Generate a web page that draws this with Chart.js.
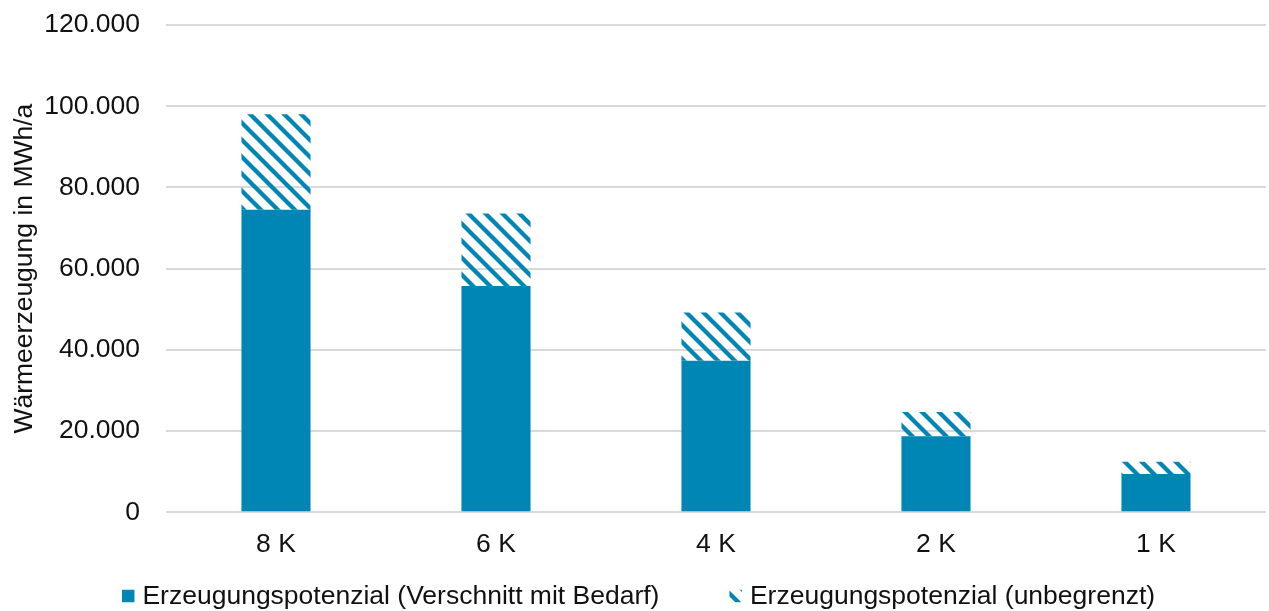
<!DOCTYPE html>
<html lang="de">
<head>
<meta charset="utf-8">
<title>Wärmeerzeugung</title>
<script src="https://cdn.jsdelivr.net/npm/chart.js@4.4.1/dist/chart.umd.min.js"></script>
<style>
  html, body { margin: 0; padding: 0; background: #fff; }
  #wrap { position: relative; width: 1269px; height: 611px; }
</style>
</head>
<body>
<div id="wrap"><canvas id="chart" width="1269" height="611"></canvas></div>
<script>
// Daten
const categories = ['8 K', '6 K', '4 K', '2 K', '1 K'];
const potenzialBedarf = [74500, 55700, 37300, 18700, 9400];
// Zusatz oberhalb (gestapelt) -> Summe = unbegrenztes Potenzial
const potenzialUnbegrenzt = [23500, 17900, 11900, 6000, 3000];
const yTickValues = [0, 20000, 40000, 60000, 80000, 100000, 120000];

const seriesLabels = [
  'Erzeugungspotenzial (Verschnitt mit Bedarf)',
  'Erzeugungspotenzial (unbegrenzt)'
];

const BLUE = '#0086b4';
const FONT = '"Liberation Sans", Arial, sans-serif';
const FONT_SIZE = 26.5;

// Schraffur fuer den unbegrenzten Teil
function makeHatch(color) {
  const t = 17;
  const c = document.createElement('canvas');
  c.width = t;
  c.height = t;
  const g = c.getContext('2d');
  g.strokeStyle = color;
  g.lineWidth = 4.3;
  g.beginPath();
  for (const o of [-t, 0, t]) {
    g.moveTo(o - 2, -2);
    g.lineTo(o + t + 2, t + 2);
  }
  g.stroke();
  return g.createPattern(c, 'repeat');
}

function formatDe(v) {
  return String(v).replace(/\B(?=(\d{3})+(?!\d))/g, '.');
}

// eigene Legende unter dem Diagramm
const bottomLegend = {
  id: 'bottomLegend',
  afterDraw(chart) {
    const ctx = chart.ctx;
    const box = 12.5, gap = 8, spacing = 70, cy = 596;
    ctx.save();
    ctx.font = FONT_SIZE + 'px ' + FONT;
    ctx.textBaseline = 'middle';
    ctx.textAlign = 'left';
    const items = chart.data.datasets.map(ds => ({
      text: ds.label,
      fill: ds.backgroundColor,
      w: ctx.measureText(ds.label).width
    }));
    let total = 0;
    items.forEach((it, i) => {
      total += box + gap + it.w + (i < items.length - 1 ? spacing : 0);
    });
    let x = chart.width / 2 - total / 2 + 4;
    items.forEach(it => {
      ctx.fillStyle = it.fill;
      ctx.fillRect(x, cy - box / 2, box, box);
      ctx.fillStyle = '#111';
      ctx.fillText(it.text, x + box + gap, cy + 1);
      x += box + gap + it.w + spacing;
    });
    ctx.restore();
  }
};

const hatch = makeHatch(BLUE);

new Chart(document.getElementById('chart'), {
  type: 'bar',
  data: {
    labels: categories,
    datasets: [
      {
        label: seriesLabels[0],
        data: potenzialBedarf,
        backgroundColor: BLUE,
        borderWidth: 0
      },
      {
        label: seriesLabels[1],
        data: potenzialUnbegrenzt,
        backgroundColor: hatch,
        borderWidth: 0
      }
    ]
  },
  options: {
    responsive: false,
    animation: false,
    events: [],
    layout: {
      padding: { top: 25, right: 3, bottom: 33, left: 0 }
    },
    datasets: {
      bar: { barPercentage: 0.314, categoryPercentage: 1 }
    },
    scales: {
      x: {
        stacked: true,
        grid: { display: false, drawTicks: false },
        border: { display: false },
        ticks: {
          color: '#111',
          padding: 17,
          font: { family: FONT, size: FONT_SIZE }
        }
      },
      y: {
        stacked: true,
        min: 0,
        max: 120000,
        afterBuildTicks(scale) {
          scale.ticks = yTickValues.map(v => ({ value: v }));
        },
        afterFit(scale) {
          scale.width = 166;
        },
        grid: {
          color: '#d9d9d9',
          lineWidth: 2,
          drawTicks: true,
          tickLength: 26,
          tickColor: 'rgba(0,0,0,0)'
        },
        border: { display: false },
        ticks: {
          color: '#111',
          padding: 0,
          font: { family: FONT, size: FONT_SIZE },
          callback: v => formatDe(v)
        },
        title: {
          display: true,
          text: 'Wärmeerzeugung in MWh/a',
          color: '#111',
          padding: { top: 9, bottom: 0 },
          font: { family: FONT, size: FONT_SIZE }
        }
      }
    },
    plugins: {
      legend: { display: false },
      tooltip: { enabled: false }
    }
  },
  plugins: [bottomLegend]
});
</script>
</body>
</html>
